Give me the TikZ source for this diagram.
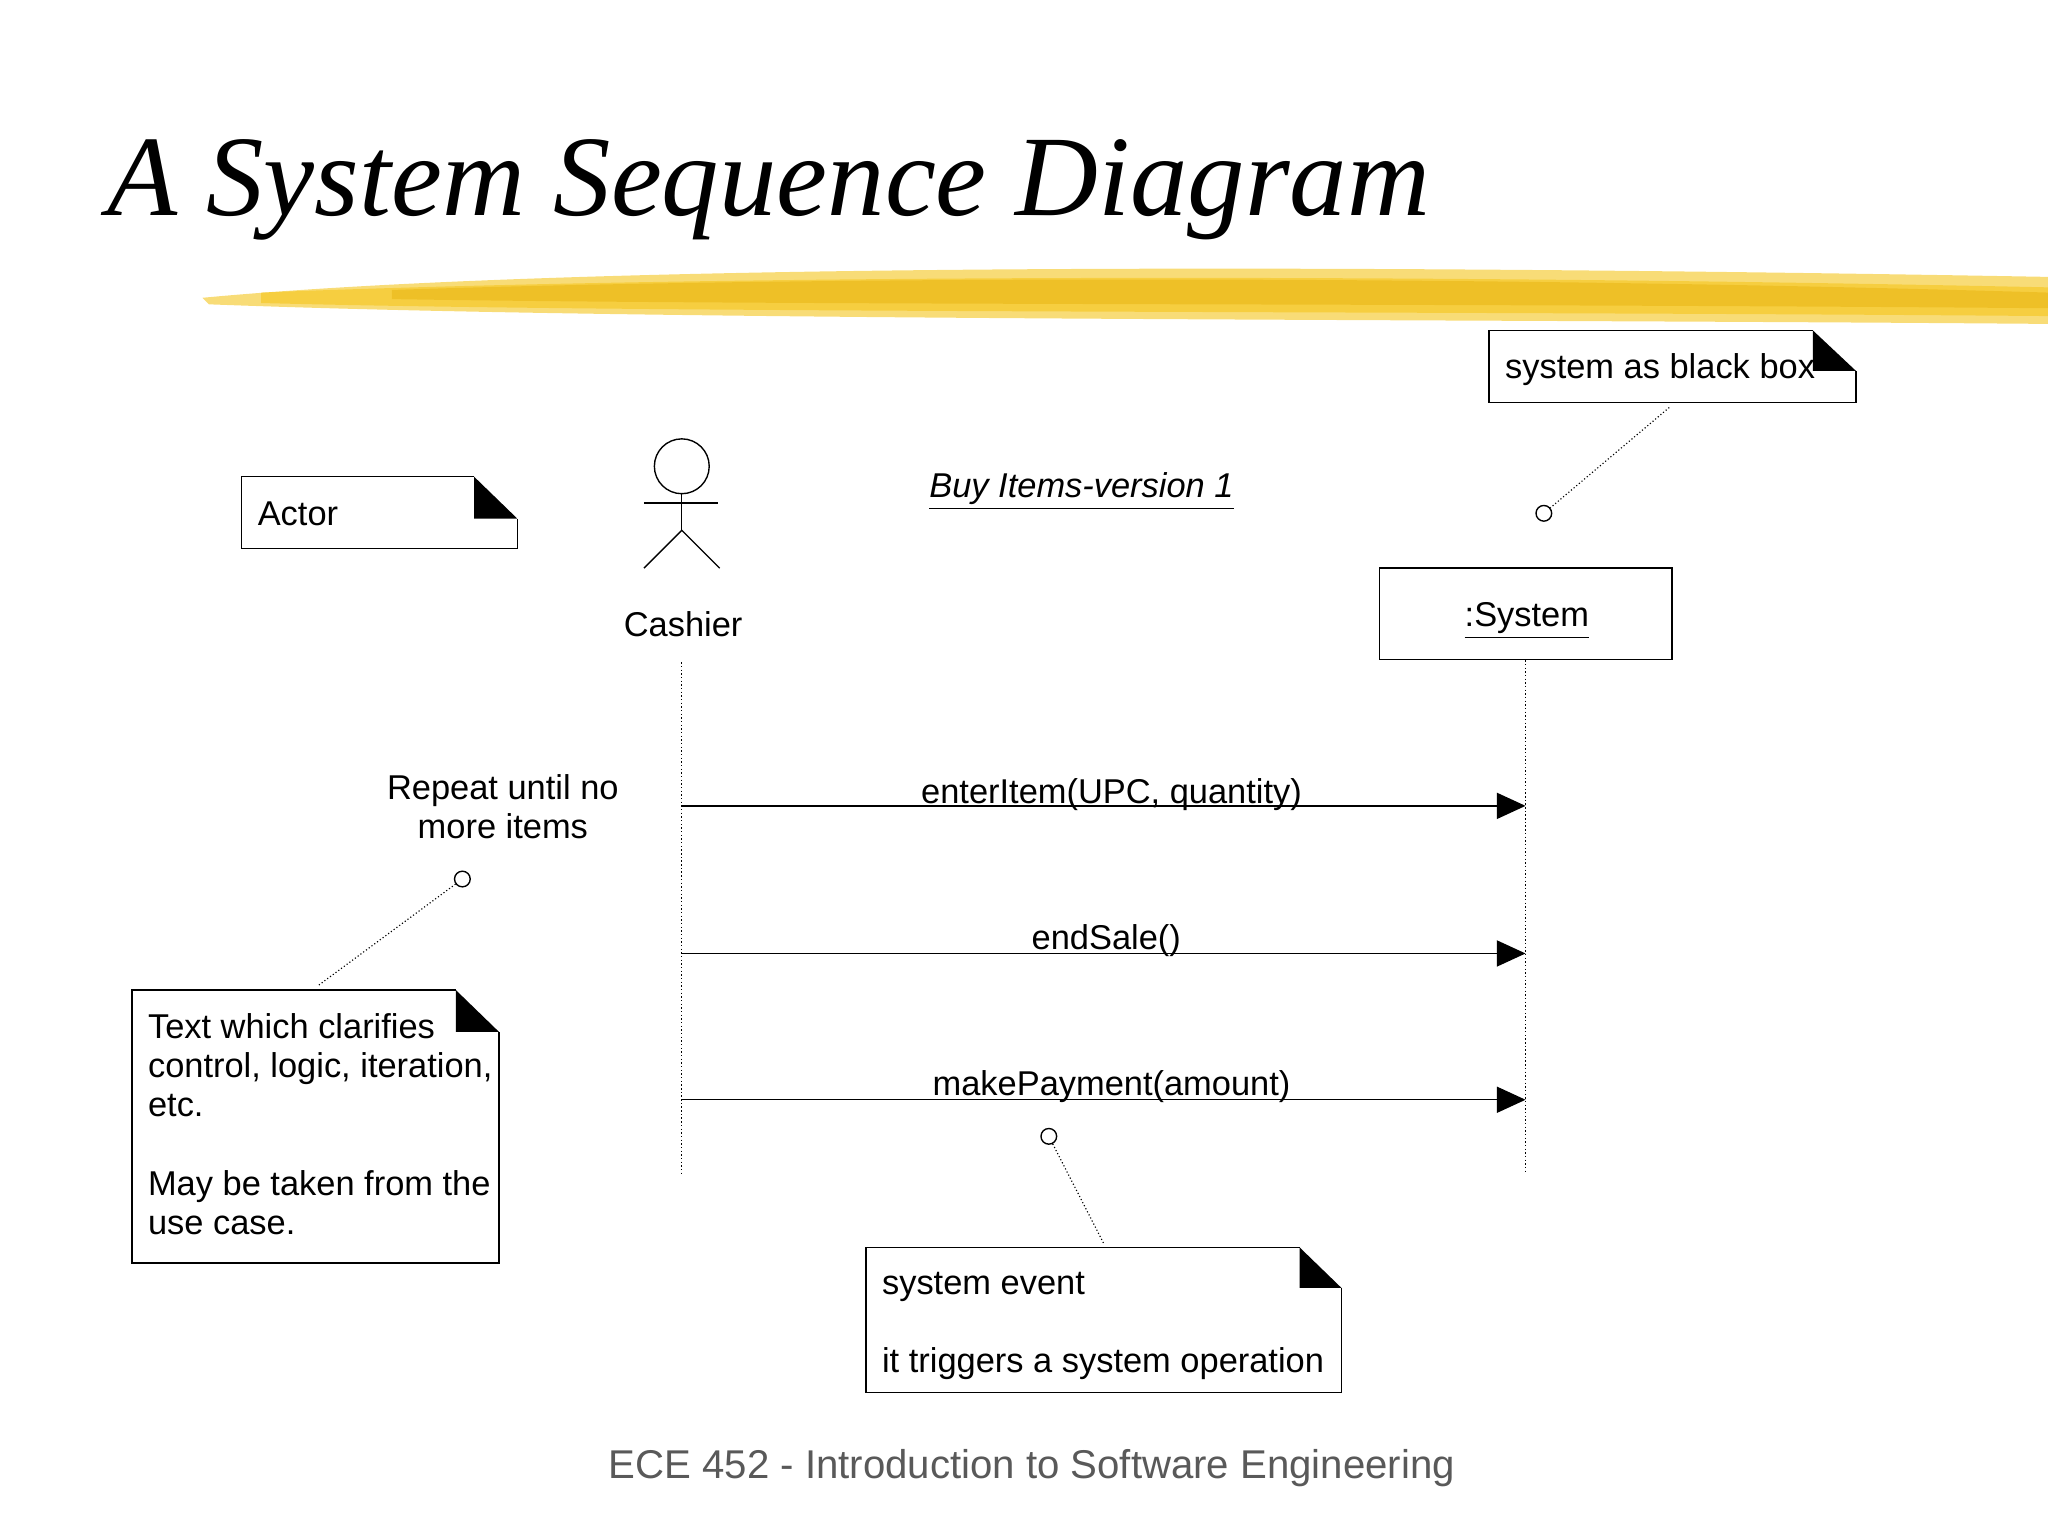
\documentclass[tikz,border=0pt]{standalone}
\usepackage{fontspec}
\setmainfont{Liberation Sans}
\newfontfamily\titlefont{Liberation Serif}
\usetikzlibrary{arrows.meta}
\definecolor{brush}{HTML}{F4C51C}
\definecolor{brushd}{HTML}{E8B410}
\begin{document}
\begin{tikzpicture}[x=0.02cm,y=-0.02cm,
  txt/.style={font=\fontsize{15pt}{18pt}\selectfont,inner sep=0pt},
  note/.style={draw,line width=0.6pt},
  life/.style={densely dotted,line width=0.6pt},
  msg/.style={line width=0.6pt,-{Triangle[length=0.44cm,width=0.4cm]}},
  dot/.style={circle,draw,line width=0.6pt,minimum size=0.24cm,inner sep=0pt,fill=white},
  link/.style={densely dotted,line width=0.5pt}]
\useasboundingbox (0,0) rectangle (1568,1175);
% title
\node[anchor=base west,inner sep=0pt,font=\titlefont\itshape\fontsize{50pt}{60pt}\selectfont] (title) at (82,165) {A System Sequence Diagram};
% brush stroke
\fill[brush,opacity=0.6] (155,228) .. controls (400,205) and (900,200) .. (1568,212) -- (1568,248) .. controls (1100,244) and (500,246) .. (160,233) -- cycle;
\fill[brush,opacity=0.6] (200,224) .. controls (500,212) and (1000,208) .. (1568,220) -- (1568,242) .. controls (1100,238) and (500,240) .. (200,232) -- cycle;
\fill[brushd,opacity=0.5] (300,222) .. controls (600,212) and (1100,210) .. (1568,224) -- (1568,236) .. controls (1100,232) and (600,234) .. (300,229) -- cycle;
% Actor note
\draw[note] (363,365) -- (185,365) -- (185,420) -- (396,420) -- (396,397);
\fill (363,365) -- (363,397) -- (396,397) -- cycle;
\node[txt,anchor=base west] (actor) at (197,402) {Actor};
% stick figure
\node[circle,draw,line width=0.6pt,minimum size=0.84cm,inner sep=0pt] (head) at (522,357) {};
\draw[line width=0.6pt] (head.south) -- (522,406) coordinate (hip);
\draw[line width=0.6pt] (493,385) -- (550,385);
\draw[line width=0.6pt] (493,435) -- (hip) -- (551,435);
\node[txt,anchor=base] (cashier) at (523,487) {Cashier};
\coordinate (c1) at (522,507); \coordinate (c2) at (522,898);
\draw[life] (c1) -- (c2);
% system
\node[draw,line width=0.6pt,minimum width=4.48cm,minimum height=1.4cm] (sys) at (1168,470) {};
\node[txt,anchor=base] (syst) at (1169,480) {\underline{:System}};
\coordinate (s2) at (1168,898);
\draw[life] (sys.south) -- (s2);
\node[txt,anchor=base,font=\fontsize{15pt}{18pt}\selectfont\itshape] (buy) at (828,381) {\underline{Buy Items-version 1}};
% black box note
\draw[note] (1388,253) -- (1140,253) -- (1140,308) -- (1421,308) -- (1421,284);
\fill (1388,253) -- (1388,284) -- (1421,284) -- cycle;
\node[txt,anchor=base west] (bb) at (1152,290) {system as black box};
\node[dot] (d1) at (1182,393) {};
\coordinate (bbl) at (1278,312);
\draw[link] (bbl) -- (d1);
% messages
\coordinate (a1) at (522,617); \coordinate (b1) at (1168,617);
\coordinate (a2) at (522,730); \coordinate (b2) at (1168,730);
\coordinate (a3) at (522,842); \coordinate (b3) at (1168,842);
\draw[msg] (a1) -- (b1);
\draw[msg] (a2) -- (b2);
\draw[msg] (a3) -- (b3);
\node[txt,anchor=base] (m1) at (851,615) {enterItem(UPC, quantity)};
\node[txt,anchor=base] (m2) at (847,727) {endSale()};
\node[txt,anchor=base] (m3) at (851,839) {makePayment(amount)};
% repeat
\node[txt,anchor=base] (rep) at (385,612) {Repeat until no};
\node[txt,anchor=base] (rep2) at (385,642) {more items};
\node[dot] (d2) at (354,673) {};
\coordinate (n2) at (243,755);
\draw[link] (d2) -- (n2);
% left note
\draw[note] (349,758) -- (101,758) -- (101,967) -- (382,967) -- (382,790);
\fill (349,758) -- (349,790) -- (382,790) -- cycle;
\node[txt,anchor=base west] (t1) at (113,795) {Text which clarifies};
\node[txt,anchor=base west] (t2) at (113,825) {control, logic, iteration,};
\node[txt,anchor=base west] (t3) at (113,855) {etc.};
\node[txt,anchor=base west] (t4) at (113,915) {May be taken from the};
\node[txt,anchor=base west] (t5) at (113,945) {use case.};
% system event note
\node[dot] (d3) at (803,870) {};
\coordinate (n3) at (845,952);
\draw[link] (d3) -- (n3);
\draw[note] (995,955) -- (663,955) -- (663,1066) -- (1027,1066) -- (1027,986);
\fill (995,955) -- (995,986) -- (1027,986) -- cycle;
\node[txt,anchor=base west] (e1) at (675,991) {system event};
\node[txt,anchor=base west] (e2) at (675,1051) {it triggers a system operation};
% footer
\node[anchor=base,inner sep=0pt,text=black!65,font=\fontsize{17.5pt}{20pt}\selectfont] (foot) at (790,1132) {ECE 452 - Introduction to Software Engineering};
\end{tikzpicture}
\end{document}
